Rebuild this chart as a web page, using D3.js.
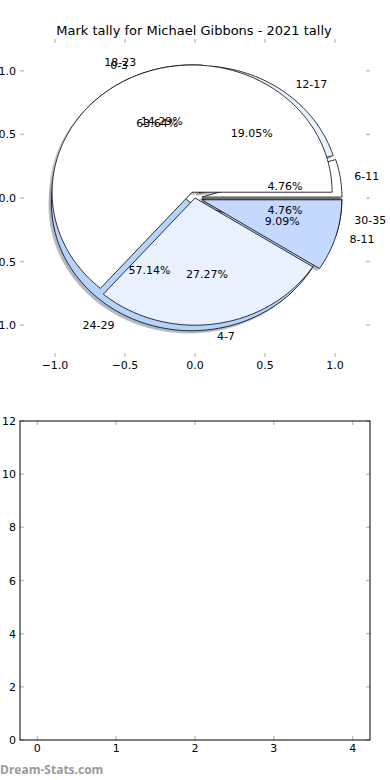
<!DOCTYPE html>
<html>
<head>
<meta charset="utf-8">
<script src="https://cdn.jsdelivr.net/npm/d3@7"></script>
<style>
  body { margin: 0; background: #fff; }
  svg { display: block; font-family: "DejaVu Sans", sans-serif; }
</style>
</head>
<body>
<svg width="390" height="780"></svg>
<script>
// tally data
const bandsA = ['6-11', '12-17', '18-23', '24-29', '30-35'];
const tallyA = [1, 4, 3, 12, 1];
const bandsB = ['0-3', '4-7', '8-11'];
const tallyB = [7, 3, 1];
const pieTicks = [-1.0, -0.5, 0.0, 0.5, 1.0];
const barXTicks = [0, 1, 2, 3, 4];
const barYTicks = [0, 2, 4, 6, 8, 10, 12];

const title = 'Mark tally for Michael Gibbons - 2021 tally';
const colors = ['#ffffff', '#eaf1fe', '#c5d8fe', '#b6d4fb', '#a3c6f6'];

const svg = d3.select('svg');
const tickColor = '#c4c4c4';
const fmtTick = d3.format('.1f');
const minus = s => s.replace('-', '\u2212');

// ---- top panel: two overlaid pies ----
const x = d3.scaleLinear().domain([-1.25, 1.25]).range([20, 370]);
const y = d3.scaleLinear().domain([-1.25, 1.25]).range([357, 39]);

svg.append('text')
    .attr('x', 194).attr('y', 35)
    .attr('text-anchor', 'middle')
    .style('font-size', '13px')
    .text(title);

// tick marks (frame off, ticks inside)
const pieAxes = svg.append('g');
pieTicks.forEach(t => {
    pieAxes.append('line').attr('x1', x(t)).attr('x2', x(t)).attr('y1', 39).attr('y2', 43)
        .attr('stroke', tickColor).attr('stroke-width', 1.5);
    pieAxes.append('line').attr('x1', x(t)).attr('x2', x(t)).attr('y1', 353).attr('y2', 357)
        .attr('stroke', tickColor).attr('stroke-width', 1.5);
    pieAxes.append('line').attr('x1', 20).attr('x2', 24).attr('y1', y(t)).attr('y2', y(t))
        .attr('stroke', tickColor).attr('stroke-width', 1.5);
    pieAxes.append('line').attr('x1', 366).attr('x2', 370).attr('y1', y(t)).attr('y2', y(t))
        .attr('stroke', tickColor).attr('stroke-width', 1.5);
    pieAxes.append('text').attr('x', x(t)).attr('y', 369)
        .attr('text-anchor', 'middle').style('font-size', '11px')
        .text(minus(fmtTick(t)));
    pieAxes.append('text').attr('x', 16).attr('y', y(t) + 4)
        .attr('text-anchor', 'end').style('font-size', '11px')
        .text(minus(fmtTick(t)));
});

const pie = d3.pie().sort(null).startAngle(0).endAngle(2 * Math.PI);

// wedge outline in data coords (angles counter-clockwise from +x), mapped through the scales
const line = d3.line().x(p => x(p[0])).y(p => y(p[1]));
const wedgePts = (a0, a1, cx, cy, r) => {
    let pts = [[cx, cy]];
    let n = Math.max(4, Math.ceil((a1 - a0) / 0.02));
    for (let i = 0; i <= n; i++) {
        let a = a0 + (a1 - a0) * i / n;
        pts.push([cx + r * Math.cos(a), cy + r * Math.sin(a)]);
    }
    pts.push([cx, cy]);
    return pts;
};

const buildSlices = (bands, tally, explode) => {
    let total = d3.sum(tally);
    return pie(tally).map((d, i) => {
        let mid = (d.startAngle + d.endAngle) / 2;
        return {
            label: bands[i],
            pct: d.value / total * 100,
            a0: d.startAngle, a1: d.endAngle, mid: mid,
            cx: explode[i] * Math.cos(mid),
            cy: explode[i] * Math.sin(mid),
            color: colors[i % colors.length]
        };
    });
};

const slicesA = buildSlices(bandsA, tallyA, [0.05, 0.05, 0.05, 0.05, 0.05]);
const slicesB = buildSlices(bandsB, tallyB, [0.05, 0, 0.05]);
const all = slicesA.concat(slicesB);

// shadows sit under every wedge
svg.append('g').selectAll('path')
    .data(all)
    .enter()
    .append('path')
        .attr('d', s => line(wedgePts(s.a0, s.a1, s.cx - 0.018, s.cy - 0.018, 1)))
        .style('fill', s => d3.rgb(s.color).darker(1.7))
        .style('stroke', s => d3.rgb(s.color).darker(1.7))
        .style('stroke-width', 0.8)
        .style('opacity', 0.5);

const drawPie = slices => {
    svg.append('g').selectAll('path')
        .data(slices)
        .enter()
        .append('path')
            .attr('d', s => line(wedgePts(s.a0, s.a1, s.cx, s.cy, 1)))
            .style('fill', s => s.color)
            .style('stroke', '#000')
            .style('stroke-width', 0.8)
            .style('stroke-linejoin', 'miter');
};
drawPie(slicesA);
drawPie(slicesB);

const fmtPct = d3.format('.2f');
const labelPie = slices => {
    let g = svg.append('g').style('font-size', '11px');
    slices.forEach(s => {
        let lx = s.cx + 1.1 * Math.cos(s.mid);
        let ly = s.cy + 1.1 * Math.sin(s.mid);
        g.append('text')
            .attr('x', x(lx)).attr('y', y(ly) + 4)
            .attr('text-anchor', lx > 0 ? 'start' : 'end')
            .text(s.label);
        let px = s.cx + 0.6 * Math.cos(s.mid);
        let py = s.cy + 0.6 * Math.sin(s.mid);
        g.append('text')
            .attr('x', x(px)).attr('y', y(py) + 4)
            .attr('text-anchor', 'middle')
            .text(fmtPct(s.pct) + '%');
    });
};
labelPie(slicesA);
labelPie(slicesB);

// ---- bottom panel: empty axes ----
const bx = d3.scaleLinear().domain([-0.22, 4.22]).range([20, 370]);
const by = d3.scaleLinear().domain([0, 12]).range([740, 421]);
const barAxes = svg.append('g');

barXTicks.forEach(t => {
    barAxes.append('line').attr('x1', bx(t)).attr('x2', bx(t)).attr('y1', 421).attr('y2', 425)
        .attr('stroke', tickColor).attr('stroke-width', 1.5);
    barAxes.append('line').attr('x1', bx(t)).attr('x2', bx(t)).attr('y1', 736).attr('y2', 740)
        .attr('stroke', tickColor).attr('stroke-width', 1.5);
    barAxes.append('text').attr('x', bx(t)).attr('y', 752)
        .attr('text-anchor', 'middle').style('font-size', '11px')
        .text(t);
});
barYTicks.forEach(t => {
    barAxes.append('line').attr('x1', 20).attr('x2', 24).attr('y1', by(t)).attr('y2', by(t))
        .attr('stroke', tickColor).attr('stroke-width', 1.5);
    barAxes.append('line').attr('x1', 366).attr('x2', 370).attr('y1', by(t)).attr('y2', by(t))
        .attr('stroke', tickColor).attr('stroke-width', 1.5);
    barAxes.append('text').attr('x', 16).attr('y', by(t) + 4)
        .attr('text-anchor', 'end').style('font-size', '11px')
        .text(t);
});
barAxes.append('rect')
    .attr('x', 20).attr('y', 421).attr('width', 350).attr('height', 319)
    .style('fill', 'none').style('stroke', '#000').style('stroke-width', 1);

svg.append('text')
    .attr('x', 0).attr('y', 774)
    .style('font-family', '"Open Sans", sans-serif')
    .style('font-size', '12px')
    .style('font-weight', 'bold')
    .style('fill', '#9a9a9a')
    .text('Dream-Stats.com');
</script>
</body>
</html>
